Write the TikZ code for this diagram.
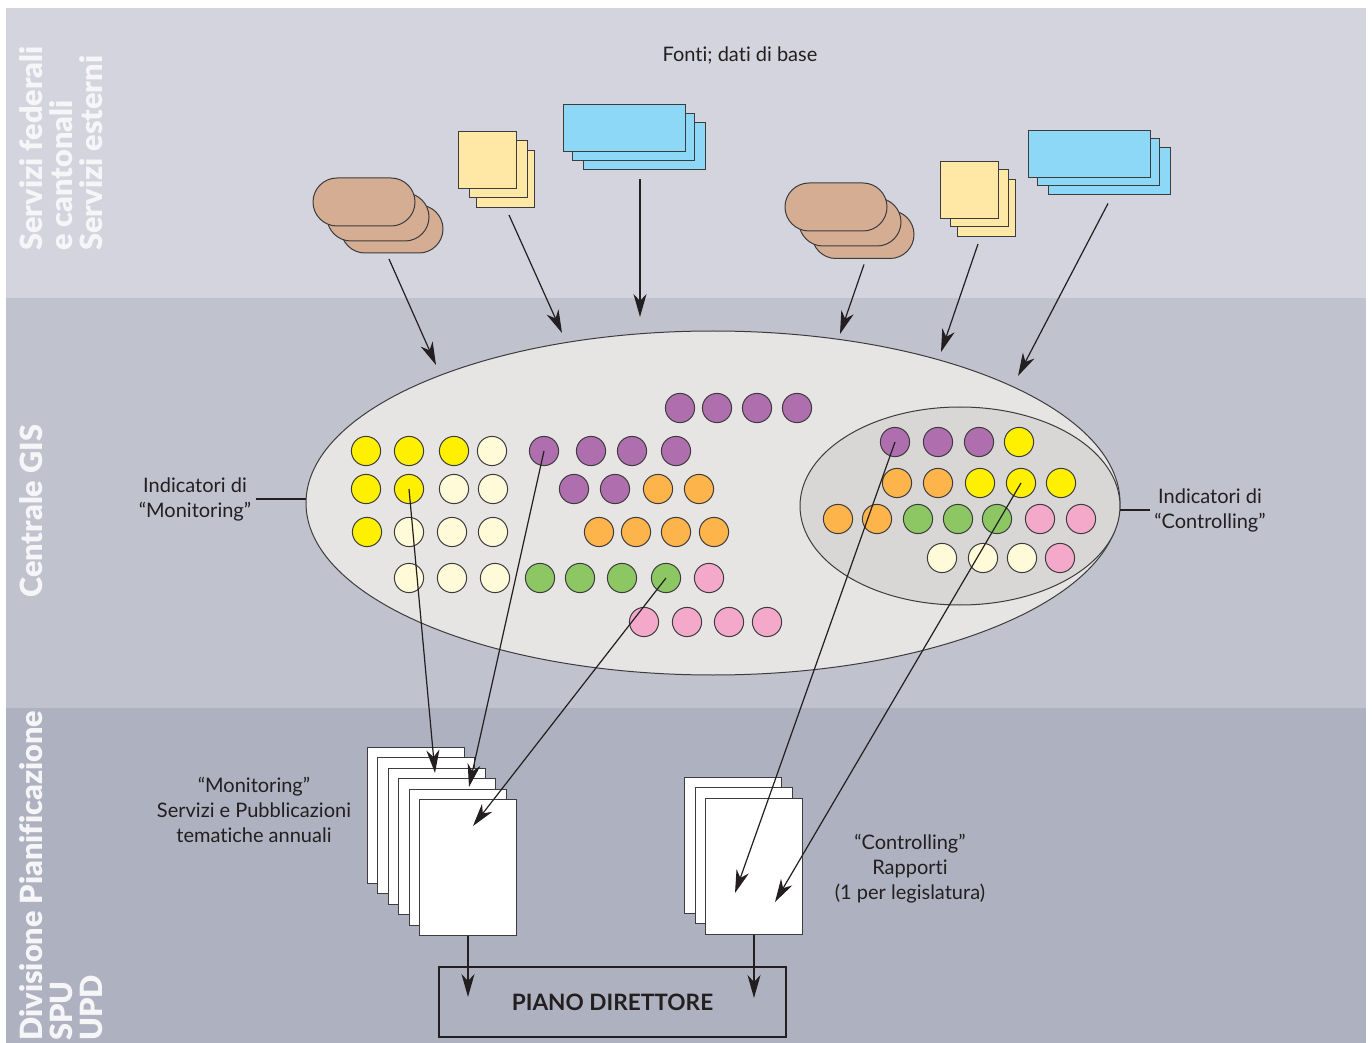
\documentclass[tikz,border=0pt]{standalone}
\usepackage{fontspec}
\setmainfont[Ligatures={NoCommon}]{Lato}
\newfontfamily\sidefont[Ligatures={NoCommon}]{Lato Black}
\usetikzlibrary{shapes.geometric,arrows.meta}

\definecolor{bandA}{RGB}{211,212,221}
\definecolor{bandB}{RGB}{192,194,206}
\definecolor{bandC}{RGB}{174,177,191}
\definecolor{edgeC}{RGB}{60,60,62}
\definecolor{inkC}{RGB}{35,31,32}
\definecolor{brownC}{RGB}{213,173,147}
\definecolor{paperC}{RGB}{255,231,165}
\definecolor{skyC}{RGB}{140,216,246}
\definecolor{ellC}{RGB}{230,229,227}
\definecolor{innC}{RGB}{216,215,214}
\definecolor{dYel}{RGB}{255,240,0}
\definecolor{dCre}{RGB}{255,250,215}
\definecolor{dPur}{RGB}{175,111,174}
\definecolor{dOra}{RGB}{253,180,75}
\definecolor{dGre}{RGB}{141,199,99}
\definecolor{dPin}{RGB}{244,169,203}
\definecolor{sideC}{RGB}{246,246,249}

\begin{document}
\begin{tikzpicture}[x=0.5pt,y=-0.5pt,
  shp/.style={draw=edgeC,line width=0.5pt,inner sep=0pt,outer sep=0pt},
  pill/.style={shp,fill=brownC,rounded corners=12pt,minimum width=51pt,minimum height=24pt},
  sheet/.style={shp,fill=paperC,minimum width=29pt,minimum height=28.5pt},
  card/.style={shp,fill=skyC,minimum width=61pt,minimum height=23.5pt},
  page/.style={shp,fill=white,minimum width=48.5pt,minimum height=68pt},
  dot/.style={shp,circle,minimum size=14.6pt},
  arr/.style={draw=inkC,line width=0.6pt,-{Stealth[length=11.5pt,width=6.5pt,inset=3.5pt]}},
  lbl/.style={text=inkC,align=center,font=\fontsize{10}{12.5}\selectfont,inner sep=2pt},
  side/.style={text=sideC,align=left,rotate=90,anchor=north west,inner sep=0pt,
    font=\fontsize{15.3}{15}\selectfont\sidefont}
]
\useasboundingbox (0,0) rectangle (1372,1043);
\fill[white] (0,0) rectangle (1372,1043);

% three horizontal bands
\fill[bandA] (6,8) rectangle (1366,298);
\fill[bandB] (6,298) rectangle (1366,708);
\fill[bandC] (6,708) rectangle (1366,1043);

% band titles
\node[side] (tA) at (19,251) {Servizi federali\\e cantonali\\Servizi esterni};
\node[side] (tB) at (19,598) {Centrale GIS};
\node[side] (tC) at (19,1041) {Divisione Pianificazione\\SPU\\UPD};

\node[lbl] (fonti) at (740,55) {Fonti; dati di base};

% data sources, left group
\node[pill] (bL3) at (392,229) {};
\node[pill] (bL2) at (378,217) {};
\node[pill] (bL1) at (364,202) {};
\node[sheet] (yL3) at (505,179.5) {};
\node[sheet] (yL2) at (498.5,169.5) {};
\node[sheet] (yL1) at (487.5,160.5) {};
\node[card] (cL3) at (644,146) {};
\node[card] (cL2) at (633,137) {};
\node[card] (cL1) at (624,128.5) {};

% data sources, right group
\node[pill] (bR3) at (863,234.5) {};
\node[pill] (bR2) at (850,222) {};
\node[pill] (bR1) at (836,207) {};
\node[sheet] (yR3) at (986.5,208.5) {};
\node[sheet] (yR2) at (979.5,198) {};
\node[sheet] (yR1) at (969,190) {};
\node[card] (cR3) at (1109,171) {};
\node[card] (cR2) at (1098.5,162) {};
\node[card] (cR1) at (1089.5,154) {};

% GIS centre
\node[shp,ellipse,fill=ellC,minimum width=407pt,minimum height=172pt] (gis) at (713,503) {};
\node[shp,ellipse,fill=innC,minimum width=160pt,minimum height=99pt] (ctrl) at (960,506) {};

% monitoring indicators
\foreach \x/\c [count=\k] in {680/dPur,717/dPur,757/dPur,797/dPur}
  \node[dot,fill=\c] (r0-\k) at (\x,408) {};
\foreach \x/\c [count=\k] in {366/dYel,409/dYel,454/dYel,492/dCre,544/dPur,591/dPur,632/dPur,676/dPur}
  \node[dot,fill=\c] (r1-\k) at (\x,451) {};
\foreach \x/\c [count=\k] in {366/dYel,409/dYel,454/dCre,493/dCre,574/dPur,615/dPur,658/dOra,699/dOra}
  \node[dot,fill=\c] (r2-\k) at (\x,489) {};
\foreach \x/\c [count=\k] in {367/dYel,409/dCre,452/dCre,493/dCre,599/dOra,636/dOra,676/dOra,714/dOra}
  \node[dot,fill=\c] (r3-\k) at (\x,532) {};
\foreach \x/\c [count=\k] in {409/dCre,452/dCre,495/dCre,540/dGre,580/dGre,622/dGre,666/dGre,709/dPin}
  \node[dot,fill=\c] (r4-\k) at (\x,578) {};
\foreach \x/\c [count=\k] in {644/dPin,687/dPin,729/dPin,767/dPin}
  \node[dot,fill=\c] (r5-\k) at (\x,622) {};

% controlling indicators
\foreach \x/\c [count=\k] in {895/dPur,938/dPur,979/dPur,1019/dYel}
  \node[dot,fill=\c] (i1-\k) at (\x,442) {};
\foreach \x/\c [count=\k] in {897/dOra,938/dOra,980/dYel,1021/dYel,1061/dYel}
  \node[dot,fill=\c] (i2-\k) at (\x,483) {};
\foreach \x/\c [count=\k] in {838/dOra,877/dOra,918/dGre,958/dGre,997/dGre,1040/dPin,1081/dPin}
  \node[dot,fill=\c] (i3-\k) at (\x,519) {};
\foreach \x/\c [count=\k] in {942/dCre,983/dCre,1022/dCre,1060/dPin}
  \node[dot,fill=\c] (i4-\k) at (\x,558) {};

% indicator labels
\node[lbl] (monlab) at (195,499) {Indicatori di\\“Monitoring”};
\node[lbl] (ctrlab) at (1210,510) {Indicatori di\\“Controlling”};
\draw[draw=inkC,line width=0.6pt] (monlab.east) -- (monlab.east -| gis.west);
\draw[draw=inkC,line width=0.6pt] (ctrlab.west) -- (ctrlab.west -| ctrl.east);

% publications
\node[page] (m1) at (415.5,815) {};
\node[page] (m2) at (426,825.5) {};
\node[page] (m3) at (436.5,836) {};
\node[page] (m4) at (447,846.5) {};
\node[page] (m5) at (458,857.5) {};
\node[page] (m6) at (468,867.5) {};
\node[page] (k1) at (733,845) {};
\node[page] (k2) at (743.5,855.5) {};
\node[page] (k3) at (754,866.5) {};

\node[lbl] (montxt) at (254,810) {“Monitoring”\\Servizi e Pubblicazioni\\tematiche annuali};
\node[lbl] (ctrtxt) at (910,869) {“Controlling”\\Rapporti\\(1 per legislatura)};

\node[draw=inkC,line width=0.6pt,minimum width=173.5pt,minimum height=35pt,inner sep=0pt,
  text=inkC,font=\fontsize{11.3}{12}\selectfont\bfseries] (piano) at (612.5,1002) {PIANO DIRETTORE};

% arrow ends
\coordinate (t1) at (436,365);
\coordinate (t2) at (562,333);
\coordinate (t3) at (640,317);
\coordinate (t4) at (840,334);
\coordinate (t5) at (941,352);
\coordinate (t6) at (1018,376);
\coordinate (pa) at (435,773);
\coordinate (pb) at (469,787);
\coordinate (pc) at (473,826);
\coordinate (pd) at (735,893);
\coordinate (pe) at (775,902);
\coordinate (qa) at (468,997);
\coordinate (qb) at (754,998);

% sources feed the GIS centre
\draw[arr] ([shift={(-3,6)}]bL3.south) -- (t1);
\draw[arr] ([shift={(4,7)}]yL3.south) -- (t2);
\draw[arr] ([shift={(-4,10)}]cL3.south) -- (t3);
\draw[arr] ([shift={(1,6)}]bR3.south) -- (t4);
\draw[arr] ([shift={(-8.5,7)}]yR3.south) -- (t5);
\draw[arr] ([shift={(-1,9)}]cR3.south) -- (t6);

% indicators feed the publications
\draw[arr] (r2-2.center) -- (pa);
\draw[arr] (r1-5.center) -- (pb);
\draw[arr] (r4-7.center) -- (pc);
\draw[arr] (i1-1.center) -- (pd);
\draw[arr] (i2-4.center) -- (pe);

% publications feed the master plan
\draw[arr] (m6.south) -- (qa);
\draw[arr] (k3.south) -- (qb);
\end{tikzpicture}
\end{document}
